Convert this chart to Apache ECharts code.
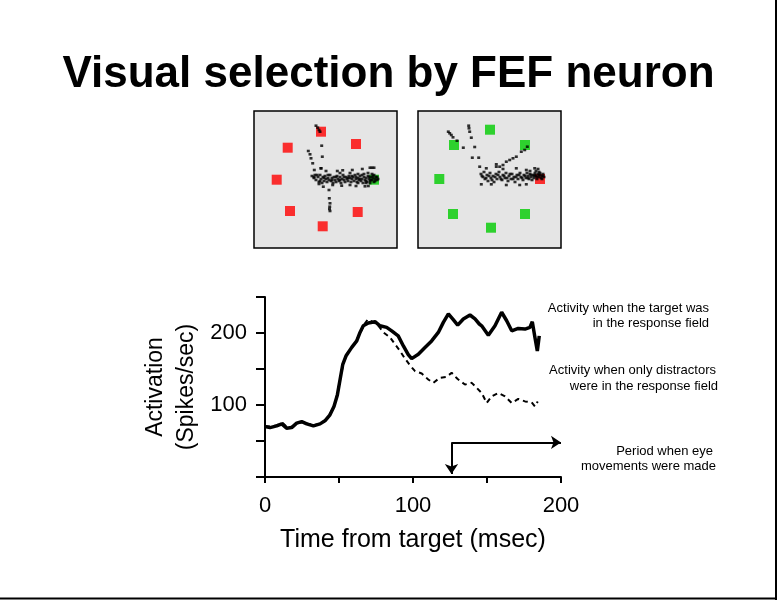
<!DOCTYPE html>
<html>
<head>
<meta charset="utf-8">
<script src="https://cdn.jsdelivr.net/npm/echarts@6/dist/echarts.min.js"></script>
<style>html,body{margin:0;padding:0;background:#fff}#c{width:777px;height:600px}</style>
</head>
<body>
<div id="c"></div>
<script>
// ---- Main chart data (time in msec, activation in spikes/sec) ----
var timeTarget = [0,3.4,7.9,11.3,14.6,18,21.4,24.8,28.2,32.7,37.2,40.5,43.9,46.6,48.9,50.7,52.5,54.7,58.6,62,64.2,66.4,69.8,70.9,74.3,77.7,82.2,85.6,90,93.5,96.8,99.1,103.6,108.1,112.6,117.1,120.5,123.9,127.2,130.2,134,138.5,141.9,144.8,146.4,150.9,155.4,159.9,163.3,166.7,171.1,175.7,179,180.6,182.4,184,185.3];
var valTarget = [70,68.6,71,73.8,67.8,68.6,74.8,77,73.8,71,73.8,78,86.4,98,114,135,156,168,180,189,200.8,210,213.9,214.8,215.7,210,207.8,203,196,182,170,164.4,170.4,179.8,189,200.8,214.8,226.5,218.5,211,219.5,225,219.5,212.5,210,197,210,228.8,217,203,206.4,205.5,207.8,215.7,193.8,175,196];
var timeDistr = [0,4,8,12,15,19,22,26,29,33,37,41,44,47,49,51,53,55,59,62,65,67,69.5,73,77,80,84.5,87.8,91.2,94.6,98,101.4,105.9,110.3,113.7,118.2,122.8,126.1,130,135.1,139.7,143,146.4,149.8,153.2,157.6,162.2,166.7,171.1,175.7,180.2,182.4,184.3];
var valDistr = [71,70,72,75,69,70,75,76,74,72,74,79,88,100,117,138,158,170,181,191,203,212,219,215,209,200.8,193.8,184.5,175,164.4,155,147,143.8,135.4,130.8,137.8,139.2,144.8,136.4,128.4,130.8,123.8,116.8,102.8,112,116.8,112,102.8,108.4,105,103.6,98,105];
var xTicks = [0,100,200];
var yTicks = [100,200];
// eye-movement period bracket: corner (time, value), down-arrow tip value, right-arrow end time
var periodStart = [126,48];
var periodDownTo = 4;
var periodRightTo = 200;

// ---- Search-array panels (panel pixel coordinates, y downward) ----
var leftRed = [[67,20.7],[102,33],[33.7,36.7],[22.7,68.7],[36,100],[103.7,101],[68.7,115.3]];
var leftGreen = [[120,68.7]];
var rightGreen = [[72,18.7],[36,34],[107,34],[21.3,68],[35,103],[107,103],[73,116.7]];
var rightRed = [[122,68]];
var leftDots = [[62,14.7],[63.7,16.7],[65,19],[66,20.7],[54.3,40],[56,43.3],[57,47.3],[58.7,52.3],[60.3,59],[67.7,34.7],[68.3,45.7],[67,57.3],
 [75,79],[75.3,87.3],[76,92.3],[75.7,95.7],[76,100],[75.5,98],
 [67,57.3],[72,60],[83.3,60],[88.7,59.3],[98.3,59],[108.3,58],[116,56.7],[120,56.7],[118,56.7],
 [58,65],[60,66],[61,64],[62,69],[64,66],[65,71],[66,64],[67,68],[68,72],[69,66],[70,70],[71,65],[72,68],[73,71],[74,67],[75,69],[76,64],[77,70],[78,67],[79,72],[80,66],[81,69],[82,71],[83,65],[84,68],[85,70],[86,66],[87,72],[88,68],[89,64],[90,69],[91,71],[92,66],[93,68],[94,70],[95,65],[96,67],[97,71],[98,68],[99,66],[100,70],[101,64],[102,68],[103,71],[104,67],[105,69],[106,65],[107,70],[108,68],[109,72],[110,66],[111,69],[112,67],[113,71],[114,65],[115,68],[116,70],[117,66],[118,69],[119,67],[120,71],[121,68],[122,66],[123,69],[124,68],[110,63],[114,62],[118,63],[104,63],[96,62],[86,62],
 [60,67],[63,64],[66,70],[70,67],[74,64],[78,69],[82,66],[86,69],[90,66],[94,67],[98,65],[102,66],[106,68],[108,64],[112,70],[115,66],[117,69],[119,65],[121,70],[123,66],[120,64],[116,72],[112,72],[104,72],
 [65,73],[69.3,75.7],[78.7,74],[87.7,74.7],[96,74],[102,75],[111,75.3],[114.3,75]];
var rightDots = [[30.3,20.7],[31.7,22.3],[33.3,24],[35,26.3],[39,29.7],[50.7,14.7],[51,17.3],[51.7,20.7],[53.3,26.7],[45.3,36.7],[56.7,36],[54.3,46.7],[60.7,46.7],
 [109.3,35.7],[106.7,39],[103.3,40.7],[98.3,45.7],[95,47.3],[91.7,49],[88.3,50.7],[85,54],[81.7,55.7],[78.3,53.3],
 [61.7,55.7],[68.3,57.3],[78.3,55.7],[85,58],[98.3,57.3],[108.3,59],[116.7,57.3],[120,58],
 [63,63],[65,66],[66,61],[67,68],[69,64],[70,70],[72,62],[73,67],[75,65],[76,71],[78,63],[79,68],[81,61],[82,66],[84,69],[85,64],[87,67],[88,62],[90,70],[91,65],[93,68],[94,63],[96,66],[97,71],[99,64],[100,68],[102,62],[103,66],[105,69],[106,64],[108,67],[109,62],[110,65],[111,68],[112,63],[113,66],[114,69],[115,64],[116,67],[117,62],[118,65],[119,68],[120,63],[121,66],[122,64],[123,67],[124,65],[125,63],[126,66],[118,60],[112,60],[121,61],
 [64,65],[68,67],[71,65],[74,69],[77,66],[80,64],[83,68],[86,65],[89,67],[92,63],[95,68],[98,66],[101,64],[104,67],[107,65],[110,67],[113,64],[116,65],[119,66],[122,62],[124,68],[117,64],[121,64],[125,65],
 [63.3,73.3],[73.3,73.3],[88.3,74],[101.7,74],[108.3,73.3]];

var FONT = '"Liberation Sans", Arial, sans-serif';
var chart = echarts.init(document.getElementById('c'), null, {renderer: 'canvas'});

function tickFmt(list) { return function (v) { return list.indexOf(v) >= 0 ? String(v) : ''; }; }
function panelAxes(gi) {
  return [{
    type: 'value', gridIndex: gi, min: 0, max: 143, show: false
  }, {
    type: 'value', gridIndex: gi, min: 0, max: 137, inverse: true, show: false
  }];
}
var pa = panelAxes(1), pb = panelAxes(2);

var option = {
  backgroundColor: '#ffffff',
  animation: false,
  title: {
    text: 'Visual selection by FEF neuron',
    left: 'center', top: 53, padding: 0,
    textStyle: {fontFamily: FONT, fontSize: 44, fontWeight: 'bold', color: '#000'}
  },
  grid: [
    {left: 265, top: 297, width: 296, height: 180, containLabel: false},
    {left: 254, top: 111, width: 143, height: 137, show: true, backgroundColor: '#e5e5e5', borderColor: '#000', borderWidth: 1.5},
    {left: 418, top: 111, width: 143, height: 137, show: true, backgroundColor: '#e5e5e5', borderColor: '#000', borderWidth: 1.5}
  ],
  xAxis: [{
    type: 'value', gridIndex: 0, min: 0, max: 200, interval: 50,
    name: 'Time from target (msec)', nameLocation: 'middle', nameGap: 51,
    nameTextStyle: {fontFamily: FONT, fontSize: 25, color: '#000'},
    axisLine: {show: true, onZero: false, lineStyle: {color: '#000', width: 2}},
    axisTick: {show: true, length: 6, lineStyle: {color: '#000', width: 2}},
    axisLabel: {margin: 18, fontFamily: FONT, fontSize: 22, color: '#000', formatter: tickFmt(xTicks)},
    splitLine: {show: false}
  }, pa[0], pb[0]],
  yAxis: [{
    type: 'value', gridIndex: 0, min: 0, max: 250, interval: 50,
    name: 'Activation\n(Spikes/sec)', nameLocation: 'middle', nameRotate: 90, nameGap: 63,
    nameTextStyle: {fontFamily: FONT, fontSize: 23, color: '#000', lineHeight: 31},
    axisLine: {show: true, onZero: false, lineStyle: {color: '#000', width: 2}},
    axisTick: {show: true, length: 9, lineStyle: {color: '#000', width: 2}},
    axisLabel: {margin: 18, fontFamily: FONT, fontSize: 22, color: '#000', formatter: tickFmt(yTicks)},
    splitLine: {show: false}
  }, pa[1], pb[1]],
  series: [
    {
      name: 'distractors', type: 'line', xAxisIndex: 0, yAxisIndex: 0,
      data: timeDistr.map(function (t, i) { return [t, valDistr[i]]; }),
      showSymbol: false, symbol: 'none',
      lineStyle: {color: '#000', width: 2, type: [5, 4]}
    },
    {
      name: 'target', type: 'line', xAxisIndex: 0, yAxisIndex: 0,
      data: timeTarget.map(function (t, i) { return [t, valTarget[i]]; }),
      showSymbol: false, symbol: 'none',
      lineStyle: {color: '#000', width: 3.5}
    },
    {
      name: 'period', type: 'line', xAxisIndex: 0, yAxisIndex: 0, data: [[0, 0]], clip: false,
      showSymbol: false, symbol: 'none', lineStyle: {opacity: 0},
      markLine: {
        silent: true, animation: false,
        symbol: ['none', 'arrow'], symbolSize: 10,
        label: {show: false},
        emphasis: {disabled: true},
        lineStyle: {color: '#000', width: 2, type: 'solid'},
        data: [
          [{coord: periodStart, symbol: 'none'}, {coord: [periodStart[0], periodDownTo], symbol: 'arrow', symbolSize: 10}],
          [{coord: periodStart, symbol: 'none'}, {coord: [periodRightTo, periodStart[1]], symbol: 'arrow', symbolSize: 10}]
        ]
      }
    },
    {type: 'scatter', xAxisIndex: 1, yAxisIndex: 1, data: leftRed, symbol: 'rect', symbolSize: 10, itemStyle: {color: '#ff0000'}},
    {type: 'scatter', xAxisIndex: 1, yAxisIndex: 1, data: leftGreen, symbol: 'rect', symbolSize: 10, itemStyle: {color: '#00cc00'}},
    {type: 'scatter', xAxisIndex: 1, yAxisIndex: 1, data: leftDots, symbol: 'rect', symbolSize: [3, 2.6], itemStyle: {color: '#000'}},
    {type: 'scatter', xAxisIndex: 2, yAxisIndex: 2, data: rightGreen, symbol: 'rect', symbolSize: 10, itemStyle: {color: '#00cc00'}},
    {type: 'scatter', xAxisIndex: 2, yAxisIndex: 2, data: rightRed, symbol: 'rect', symbolSize: 10, itemStyle: {color: '#ff0000'}},
    {type: 'scatter', xAxisIndex: 2, yAxisIndex: 2, data: rightDots, symbol: 'rect', symbolSize: [3, 2.6], itemStyle: {color: '#000'}}
  ],
  graphic: [
    {type: 'text', style: {x: 709, y: 308, text: 'Activity when the target was', textAlign: 'right', textVerticalAlign: 'middle', font: '13px ' + FONT, fill: '#000'}},
    {type: 'text', style: {x: 709, y: 323.5, text: 'in the response field', textAlign: 'right', textVerticalAlign: 'middle', font: '13px ' + FONT, fill: '#000'}},
    {type: 'text', style: {x: 716, y: 370, text: 'Activity when only distractors', textAlign: 'right', textVerticalAlign: 'middle', font: '13px ' + FONT, fill: '#000'}},
    {type: 'text', style: {x: 718, y: 386.5, text: 'were in the response field', textAlign: 'right', textVerticalAlign: 'middle', font: '13px ' + FONT, fill: '#000'}},
    {type: 'text', style: {x: 713, y: 451.5, text: 'Period when eye', textAlign: 'right', textVerticalAlign: 'middle', font: '13px ' + FONT, fill: '#000'}},
    {type: 'text', style: {x: 716, y: 466.5, text: 'movements were made', textAlign: 'right', textVerticalAlign: 'middle', font: '13px ' + FONT, fill: '#000'}},
    {type: 'line', shape: {x1: 776, y1: 0, x2: 776, y2: 600}, style: {stroke: '#000', lineWidth: 2}},
    {type: 'line', shape: {x1: 0, y1: 598.5, x2: 777, y2: 598.5}, style: {stroke: '#000', lineWidth: 2}}
  ]
};
chart.setOption(option);
</script>
</body>
</html>
